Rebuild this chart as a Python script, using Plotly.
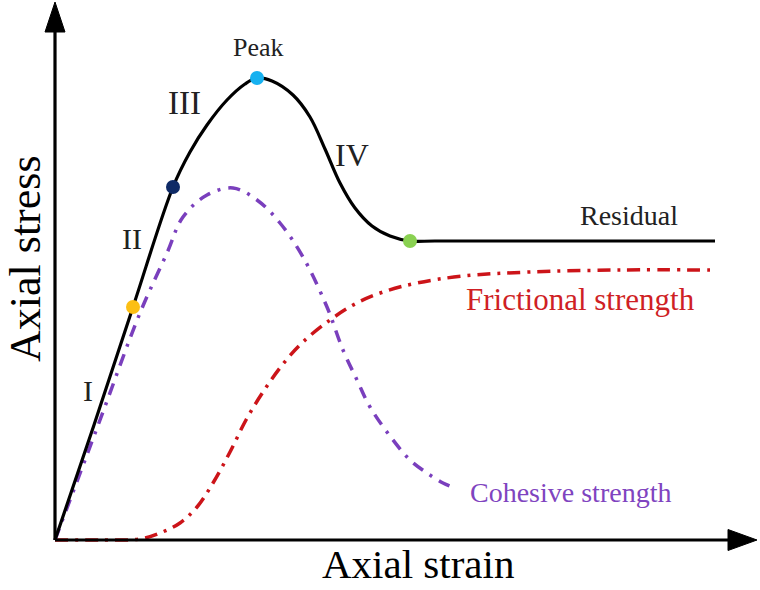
import plotly.graph_objects as go

# ---- data (schematic units: strain, stress) ----
curve_strain = [0.00, 0.39, 0.78, 1.18, 1.35, 1.52, 1.72, 1.90, 2.02, 2.17, 2.38, 2.55, 2.70, 2.85, 3.00, 3.17, 3.35, 3.55, 3.80, 5.05, 6.60]
curve_stress = [0.00, 1.15, 2.33, 3.53, 3.88, 4.15, 4.40, 4.56, 4.62, 4.59, 4.45, 4.23, 3.91, 3.57, 3.32, 3.14, 3.04, 2.99, 2.99, 2.99, 2.99]

cohesive_strain = [0.00, 0.45, 0.85, 1.12, 1.28, 1.52, 1.78, 2.02, 2.25, 2.48, 2.72, 2.88, 3.02, 3.15, 3.38, 3.55, 3.72, 3.88, 4.00]
cohesive_stress = [0.00, 1.20, 2.27, 2.87, 3.23, 3.45, 3.52, 3.40, 3.17, 2.83, 2.33, 1.90, 1.60, 1.33, 1.00, 0.80, 0.67, 0.57, 0.52]

friction_strain = [0.00, 0.45, 0.85, 1.05, 1.25, 1.42, 1.58, 1.75, 1.91, 2.08, 2.28, 2.48, 2.75, 3.00, 3.28, 3.62, 4.08, 4.75, 5.65, 6.55]
friction_stress = [0.00, 0.00, 0.01, 0.07, 0.17, 0.33, 0.57, 0.88, 1.20, 1.48, 1.76, 1.98, 2.20, 2.36, 2.48, 2.57, 2.64, 2.68, 2.70, 2.70]

key_names = ["yield", "damage", "Peak", "Residual"]
key_strain = [0.78, 1.18, 2.02, 3.55]
key_stress = [2.33, 3.53, 4.62, 2.99]
key_colors = ["#fcbf14", "#0f2a66", "#16b1f0", "#8ad152"]

stage_labels = ["I", "II", "III", "IV"]
stage_x = [0.33, 0.77, 1.29, 2.97]
stage_y = [1.50, 3.02, 4.37, 3.85]
stage_sizes = [30, 30, 33, 32]

SERIF = "Liberation Serif"
RED = "#cc1419"
PURPLE = "#7a3fbd"

fig = go.Figure()

fig.add_trace(go.Scatter(x=friction_strain, y=friction_stress, mode="lines",
                         line=dict(color=RED, width=3.5, shape="spline", smoothing=1.0,
                                   dash="13px,7px,3px,7px"),
                         hoverinfo="skip", showlegend=False))
fig.add_trace(go.Scatter(x=cohesive_strain, y=cohesive_stress, mode="lines",
                         line=dict(color=PURPLE, width=3.5, shape="spline", smoothing=1.0,
                                   dash="12px,8px,3px,8px"),
                         hoverinfo="skip", showlegend=False))
fig.add_trace(go.Scatter(x=curve_strain, y=curve_stress, mode="lines",
                         line=dict(color="black", width=3.2, shape="spline", smoothing=1.0),
                         hoverinfo="skip", showlegend=False))
fig.add_trace(go.Scatter(x=key_strain, y=key_stress, mode="markers",
                         marker=dict(color=key_colors, size=14, line=dict(width=0)),
                         text=key_names, hoverinfo="text", showlegend=False))

# axis lines with arrow heads
fig.add_shape(type="line", x0=0, y0=0, x1=0, y1=5.12, line=dict(color="black", width=3.2))
fig.add_shape(type="line", x0=0, y0=0, x1=6.76, y1=0, line=dict(color="black", width=3.2))
fig.add_shape(type="path", path="M -0.10 5.08 L 0.10 5.08 L 0.0 5.38 Z",
              fillcolor="black", line=dict(color="black", width=1))
fig.add_shape(type="path", path="M 6.73 -0.105 L 6.73 0.105 L 7.02 0 Z",
              fillcolor="black", line=dict(color="black", width=1))

for t, x, y, s in zip(stage_labels, stage_x, stage_y, stage_sizes):
    fig.add_annotation(x=x, y=y, text=t, showarrow=False,
                       font=dict(family=SERIF, size=s, color="#222222"))

fig.add_annotation(x=2.03, y=4.93, text="Peak", showarrow=False,
                   font=dict(family=SERIF, size=26, color="#222222"))
fig.add_annotation(x=5.74, y=3.25, text="Residual", showarrow=False,
                   font=dict(family=SERIF, size=28, color="#222222"))
fig.add_annotation(x=5.25, y=2.41, text="Frictional strength", showarrow=False,
                   font=dict(family=SERIF, size=31, color="#cf1f25"))
fig.add_annotation(x=5.15, y=0.48, text="Cohesive strength", showarrow=False,
                   font=dict(family=SERIF, size=28, color="#7f44c0"))
fig.add_annotation(x=3.63, y=-0.49, yanchor="bottom", text="Axial strain", showarrow=False,
                   font=dict(family=SERIF, size=41, color="black"))
fig.add_annotation(x=-0.30, y=2.81, text="Axial stress", showarrow=False, textangle=-90,
                   font=dict(family=SERIF, size=44, color="black"))

fig.update_layout(
    width=760, height=590,
    margin=dict(l=0, r=0, t=0, b=0),
    paper_bgcolor="white", plot_bgcolor="white",
    xaxis=dict(range=[-0.55, 7.05], visible=False, fixedrange=True),
    yaxis=dict(range=[-0.50, 5.40], visible=False, fixedrange=True),
)

fig.write_html("out.html")
